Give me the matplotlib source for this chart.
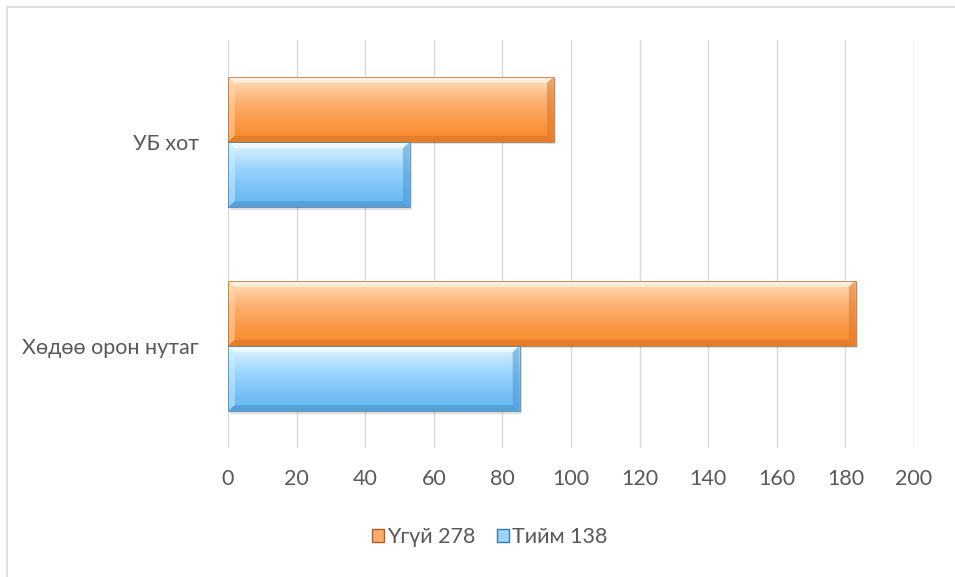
import numpy as np
import matplotlib
matplotlib.use("Agg")
import matplotlib.pyplot as plt
from matplotlib.patches import Polygon, Rectangle, Patch
from matplotlib.lines import Line2D
from matplotlib.colors import LinearSegmentedColormap

plt.rcParams['font.family'] = ['Lato', 'Open Sans', 'DejaVu Sans']

categories = ["Хөдөө орон нутаг", "УБ хот"]
no_values = [183, 95]      # Үгүй
yes_values = [85, 53]      # Тийм
series_labels = ["Үгүй 278", "Тийм 138"]
x_ticks = [0, 20, 40, 60, 80, 100, 120, 140, 160, 180, 200]

text_color = "#595959"
grid_color = "#D9D9D9"

orange = dict(top="#FFE2C2", mid="#FDAE6E", bot="#F98B2C", edge="#A9602A",
              light="#FFD9B0", dark="#D9782A")
blue = dict(top="#E6F8FF", mid="#9CD5FD", bot="#66B8F2", edge="#3E77A6",
            light="#CFEFFF", dark="#4E97CF")

fig = plt.figure(figsize=(9.55, 5.77), dpi=100)
ax = fig.add_axes([228 / 955, 1 - 448 / 577, (914 - 228) / 955, (448 - 40) / 577])

# chart frame: top and left edges
fy = 1 - 6.5 / 577
fx = 6.5 / 955
fig.add_artist(Line2D([fx, 1.0], [fy, fy], transform=fig.transFigure, color="#D9D9D9", linewidth=1.2))
fig.add_artist(Line2D([fx, fx], [0.0, fy], transform=fig.transFigure, color="#D9D9D9", linewidth=1.2))

y = np.arange(len(categories))
h = 0.32
bars_no = ax.barh(y + h / 2, no_values, height=h, color="none", edgecolor="none", zorder=3)
bars_yes = ax.barh(y - h / 2, yes_values, height=h, color="none", edgecolor="none", zorder=3)


def style_bar(patch, c):
    x0, y0 = patch.get_x(), patch.get_y()
    w, hh = patch.get_width(), patch.get_height()
    # soft drop shadow
    ax.add_patch(Rectangle((x0 + 0.6, y0 - 0.012), w, hh, facecolor="#000000",
                           alpha=0.12, edgecolor="none", zorder=2))
    # vertical gradient fill
    cmap = LinearSegmentedColormap.from_list("g", [c["bot"], c["mid"], c["top"]])
    grad = np.linspace(0, 1, 256).reshape(-1, 1)
    grad = np.power(grad, 1.3)
    im = ax.imshow(grad, cmap=cmap, aspect="auto", origin="lower",
                   extent=(x0, x0 + w, y0, y0 + hh), zorder=3, interpolation="bicubic")
    clip = Rectangle((x0, y0), w, hh, transform=ax.transData)
    im.set_clip_path(clip)
    # bevel edges
    bx = 2.0   # horizontal bevel in data units
    by = 0.03  # vertical bevel in data units
    top = Polygon([(x0, y0 + hh), (x0 + w, y0 + hh), (x0 + w - bx, y0 + hh - by), (x0 + bx, y0 + hh - by)],
                  closed=True, facecolor="#FFFFFF", alpha=0.55, edgecolor="none", zorder=4)
    left = Polygon([(x0, y0), (x0, y0 + hh), (x0 + bx, y0 + hh - by), (x0 + bx, y0 + by)],
                   closed=True, facecolor=c["light"], alpha=0.5, edgecolor="none", zorder=4)
    bottom = Polygon([(x0, y0), (x0 + w, y0), (x0 + w - bx, y0 + by), (x0 + bx, y0 + by)],
                     closed=True, facecolor=c["dark"], alpha=0.7, edgecolor="none", zorder=4)
    right = Polygon([(x0 + w, y0), (x0 + w, y0 + hh), (x0 + w - bx, y0 + hh - by), (x0 + w - bx, y0 + by)],
                    closed=True, facecolor=c["dark"], alpha=0.55, edgecolor="none", zorder=4)
    for p in (top, left, bottom, right):
        ax.add_patch(p)
    ax.add_patch(Rectangle((x0, y0), w, hh, fill=False, edgecolor=c["edge"],
                           linewidth=0.6, alpha=0.8, zorder=5))


for b in bars_no:
    style_bar(b, orange)
for b in bars_yes:
    style_bar(b, blue)

ax.set_xlim(0, 200)
ax.set_ylim(-0.5, 1.5)
ax.set_xticks(x_ticks)
ax.set_xticklabels([str(t) for t in x_ticks])
ax.set_yticks(y)
ax.set_yticklabels(categories)
ax.tick_params(axis="both", length=0, labelsize=15.5, colors=text_color)
ax.tick_params(axis="x", pad=15)
ax.tick_params(axis="y", pad=21)
ax.xaxis.grid(True, color=grid_color, linewidth=1.0, zorder=0)
ax.set_axisbelow(True)
for s in ax.spines.values():
    s.set_visible(False)

handles = [Patch(facecolor=orange["mid"], edgecolor=orange["edge"], label=series_labels[0]),
           Patch(facecolor=blue["mid"], edgecolor=blue["edge"], label=series_labels[1])]
fig.legend(handles=handles, loc="center", bbox_to_anchor=(490 / 955, 1 - 537 / 577), ncol=2,
           frameon=False, fontsize=15.5, labelcolor=text_color, handlelength=0.55,
           handleheight=0.55, handletextpad=0.15, columnspacing=1.0)

fig.savefig("out.png", dpi=100)
